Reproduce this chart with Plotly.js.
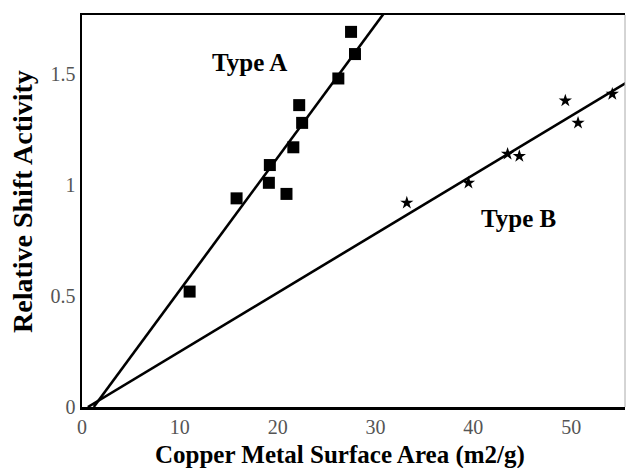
<!DOCTYPE html>
<html>
<head>
<meta charset="utf-8">
<script src="https://cdn.plot.ly/plotly-3.0.1.min.js"></script>
<style>html,body{margin:0;padding:0;background:#fff;}#chart{width:626px;height:468px;}</style>
</head>
<body>
<div id="chart"></div>
<script>
// Type A (squares)
const typeA_x = [11.0, 15.8, 19.2, 19.1, 20.9, 21.6, 22.5, 22.2, 26.2, 27.9, 27.5];
const typeA_y = [0.52, 0.94, 1.09, 1.01, 0.96, 1.17, 1.28, 1.36, 1.48, 1.59, 1.69];
// Type B (stars)
const typeB_x = [33.2, 39.5, 43.5, 44.7, 49.4, 50.7, 54.2];
const typeB_y = [0.92, 1.01, 1.14, 1.13, 1.38, 1.28, 1.41];
// Fitted lines
const fitA_x = [1.2, 30.8];
const fitA_y = [0.0, 1.77];
const fitB_x = [0.6, 55.6];
const fitB_y = [0.0, 1.46];
// Ticks
const xTicks = [0, 10, 20, 30, 40, 50];
const xTickText = ["0", "10", "20", "30", "40", "50"];
const yTicks = [0, 0.5, 1, 1.5];
const yTickText = ["0", "0.5", "1", "1.5"];
// Labels
const labels = ["Type A", "Type B"];
const labelX = [17.1, 44.6];
const labelY = [1.55, 0.85];
const xTitle = "Copper Metal Surface Area (m2/g)";
const yTitle = "Relative Shift Activity";

const serif = "Liberation Serif, Times New Roman, serif";

const traces = [
  {x: fitA_x, y: fitA_y, mode: "lines", line: {color: "#000", width: 2.6}, hoverinfo: "skip"},
  {x: fitB_x, y: fitB_y, mode: "lines", line: {color: "#000", width: 2.6}, hoverinfo: "skip"},
  {x: typeA_x, y: typeA_y, mode: "markers", marker: {symbol: "square", size: 12, color: "#000"}},
  {x: typeB_x, y: typeB_y, mode: "markers", marker: {symbol: "star", size: 10, color: "#000"}}
];

const annotations = labels.map((t, i) => ({
  x: labelX[i], y: labelY[i], xref: "x", yref: "y", text: "<b>" + t + "</b>",
  showarrow: false, font: {family: serif, size: 25, color: "#000"}
}));
annotations.push({
  x: -0.1105, y: 0.5255, xref: "paper", yref: "paper", textangle: -90,
  xanchor: "center", yanchor: "middle",
  text: "<b>" + yTitle + "</b>", showarrow: false,
  font: {family: serif, size: 28, color: "#000"}
});
annotations.push({
  x: 0.475, y: -0.1224, xref: "paper", yref: "paper",
  xanchor: "center", yanchor: "middle",
  text: "<b>" + xTitle + "</b>", showarrow: false,
  font: {family: serif, size: 25, color: "#000"}
});

const layout = {
  width: 626, height: 468,
  margin: {l: 82, r: 1, t: 15, b: 61},
  paper_bgcolor: "#fff", plot_bgcolor: "#fff",
  showlegend: false,
  font: {family: serif, color: "#000"},
  xaxis: {
    range: [0, 55.5], showgrid: false, zeroline: false,
    showline: true, linecolor: "#000", linewidth: 2.5, mirror: true,
    tickmode: "array", tickvals: xTicks, ticktext: xTickText,
    ticks: "", tickfont: {family: serif, size: 20, color: "#555"}
  },
  yaxis: {
    range: [0, 1.766], showgrid: false, zeroline: false,
    showline: true, linecolor: "#000", linewidth: 2.5,
    tickmode: "array", tickvals: yTicks, ticktext: yTickText,
    ticks: "", ticklen: 0, tickfont: {family: serif, size: 20, color: "#555"}
  },
  shapes: [
    {type: "line", xref: "paper", yref: "paper", x0: 1, x1: 1, y0: 0, y1: 1, line: {color: "#aaa", width: 1}}
  ],
  annotations: annotations
};

Plotly.newPlot("chart", traces, layout, {displayModeBar: false, staticPlot: true});
</script>
</body>
</html>
